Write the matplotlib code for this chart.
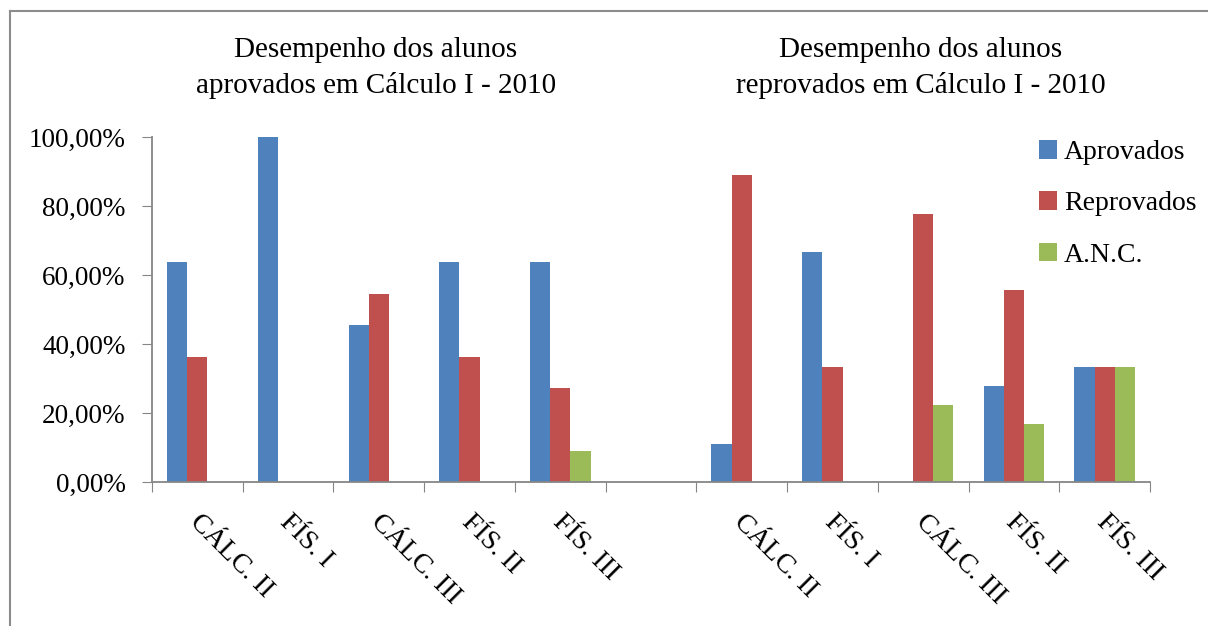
import numpy as np
import matplotlib
matplotlib.use('Agg')
import matplotlib.pyplot as plt
from matplotlib.lines import Line2D
from matplotlib.ticker import FuncFormatter

plt.rcParams['font.family'] = ['Liberation Serif', 'DejaVu Serif']

categories = ['CÁLC. II', 'FÍS. I', 'CÁLC. III', 'FÍS. II', 'FÍS. III', '',
              'CÁLC. II', 'FÍS. I', 'CÁLC. III', 'FÍS. II', 'FÍS. III']
aprovados = [0.6364, 1.0, 0.4545, 0.6364, 0.6364, 0.0,
             0.1111, 0.6667, 0.0, 0.2778, 0.3333]
reprovados = [0.3636, 0.0, 0.5455, 0.3636, 0.2727, 0.0,
              0.8889, 0.3333, 0.7778, 0.5556, 0.3333]
anc = [0.0, 0.0, 0.0, 0.0, 0.0909, 0.0,
       0.0, 0.0, 0.2222, 0.1667, 0.3333]
series_names = ['Aprovados', 'Reprovados', 'A.N.C.']
colors = ['#4F81BD', '#C0504D', '#9BBB59']
titles = ['Desempenho dos alunos\naprovados em Cálculo I - 2010',
          'Desempenho dos alunos\nreprovados em Cálculo I - 2010']

W, H = 1208, 626
fig = plt.figure(figsize=(W / 100, H / 100), dpi=100)
ax = fig.add_axes([152 / W, (H - 482) / H, (1150 - 152) / W, (482 - 137) / H])

x = np.arange(len(categories))
w = 1 / 4.5
for i, (vals, name, c) in enumerate(zip([aprovados, reprovados, anc], series_names, colors)):
    ax.bar(x + (i - 1) * w, vals, w, color=c, label=name, linewidth=0)

ax.set_xlim(-0.5, len(categories) - 0.5)
ax.set_ylim(0, 1)
ax.set_yticks(np.arange(0, 1.01, 0.2))
ax.yaxis.set_major_formatter(FuncFormatter(lambda v, p: f'{v * 100:.2f}%'.replace('.', ',')))
ax.set_xticks(np.arange(-0.5, len(categories), 1))
ax.set_xticklabels([])
ax.tick_params(axis='y', labelsize=19.5, length=7, color='#868686', pad=12)
ax.tick_params(axis='x', length=7, color='#868686')

for xi, lab in zip(x, categories):
    ax.annotate(lab, xy=(xi, 0), xycoords=('data', 'axes fraction'),
                xytext=(-4, -36), textcoords='offset pixels',
                rotation=-45, rotation_mode='anchor', ha='left', va='center',
                fontsize=20)

for s in ['top', 'right']:
    ax.spines[s].set_visible(False)
for s in ['left', 'bottom']:
    ax.spines[s].set_color('#868686')
    ax.spines[s].set_linewidth(1.3)

fig.text(376 / W, 1 - 68 / H, titles[0], ha='center', va='center', fontsize=21, linespacing=1.4)
fig.text(921 / W, 1 - 68 / H, titles[1], ha='center', va='center', fontsize=21, linespacing=1.4)

fig.legend(loc='upper left', bbox_to_anchor=(1039 / W, 1 - 140 / H), frameon=False,
           fontsize=20, handlelength=0.65, handleheight=0.65, handletextpad=0.25,
           labelspacing=0.95, borderpad=0, borderaxespad=0)

# outer chart frame (top and left edges visible)
fig.add_artist(Line2D([10 / W, 1.0], [1 - 11 / H, 1 - 11 / H], color='#8C8C8C', lw=1.5))
fig.add_artist(Line2D([10 / W, 10 / W], [0, 1 - 11 / H], color='#8C8C8C', lw=1.5))

fig.savefig('out.png', dpi=100)
